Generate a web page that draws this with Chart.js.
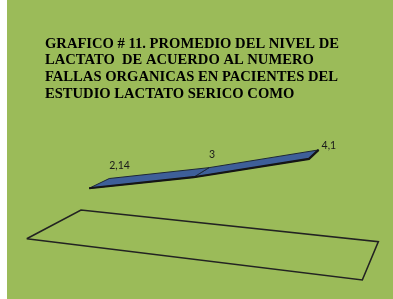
<!DOCTYPE html>
<html>
<head>
<meta charset="utf-8">
<script src="https://cdn.jsdelivr.net/npm/chart.js@4/dist/chart.umd.min.js"></script>
<style>
  body { margin: 0; background: #ffffff; }
  #wrap { position: absolute; left: 7px; top: 0; width: 386px; height: 299px; background: #9bbb59; }
</style>
</head>
<body>
<div id="wrap"><canvas id="chart" width="386" height="299"></canvas></div>
<script>
// Data
const categories = ['1', '2', '3'];
const lactato = [2.14, 3, 4.1];
const titleLines = [
    'GRAFICO # 11. PROMEDIO DEL NIVEL DE',
    'LACTATO  DE ACUERDO AL NUMERO',
    'FALLAS ORGANICAS EN PACIENTES DEL',
    'ESTUDIO LACTATO SERICO COMO'
];

// 3D view (Excel style perspective): rows map (u, value, depth, 1) to page x / y / w
const camera = [
    [285.64, 1.0, 65.34, 26.7],
    [2.69, -23.4, -0.09, 238.7],
    [-0.1379, 0, 0.13625, 1]
];
const ribbonFront = 0.2;
const ribbonBack = 0.6;
const plotTop = 141; // labels are kept inside the plot area

function project(u, value, depth) {
    const v = [u, value, depth, 1];
    const r = camera.map(row => row.reduce((s, c, i) => s + c * v[i], 0));
    return { x: r[0] / r[2], y: r[1] / r[2] };
}

function catU(i) {
    return (i + 0.5) / categories.length;
}

// Floor outline
const floor = [
    project(0, 0, 0), project(1, 0, 0), project(1, 0, 1), project(0, 0, 1), project(0, 0, 0)
];

// Ribbon top faces, one per segment
const faces = [];
for (let i = 0; i < lactato.length - 1; i++) {
    faces.push([
        project(catU(i), lactato[i], ribbonFront),
        project(catU(i + 1), lactato[i + 1], ribbonFront),
        project(catU(i + 1), lactato[i + 1], ribbonBack),
        project(catU(i), lactato[i], ribbonBack),
        project(catU(i), lactato[i], ribbonFront)
    ]);
}

// Front edge of the ribbon plus its right end
const edge = lactato.map((v, i) => project(catU(i), v, ribbonFront));
edge.push(project(catU(lactato.length - 1), lactato[lactato.length - 1], ribbonBack));

const datasets = [];
datasets.push({
    data: edge,
    borderColor: '#151515',
    borderWidth: 2.2,
    fill: false,
    order: 0
});
faces.forEach(f => {
    datasets.push({
        data: f,
        borderColor: '#1c2638',
        borderWidth: 1,
        backgroundColor: '#3e5f99',
        fill: 'shape',
        order: 1
    });
});
datasets.push({
    data: floor,
    borderColor: '#222222',
    borderWidth: 1.6,
    fill: false,
    order: 2
});

// Data labels above the back edge of the ribbon
const labelPlugin = {
    id: 'valueLabels',
    afterDatasetsDraw(chart) {
        const ctx = chart.ctx;
        const xs = chart.scales.x;
        const ys = chart.scales.y;
        ctx.save();
        ctx.font = '10.5px Lato, "Liberation Sans", sans-serif';
        ctx.fillStyle = '#1a1a1a';
        ctx.textAlign = 'left';
        ctx.textBaseline = 'alphabetic';
        lactato.forEach((v, i) => {
            const p = project(catU(i), v, ribbonBack);
            const base = Math.max(p.y - 10, plotTop + 7.5);
            const px = xs.getPixelForValue(p.x) + (base > p.y - 10 ? 3 : 0);
            const py = ys.getPixelForValue(base);
            ctx.fillText(String(v).replace('.', ','), px, py);
        });
        ctx.restore();
    }
};

new Chart(document.getElementById('chart'), {
    type: 'line',
    data: { datasets: datasets },
    options: {
        responsive: false,
        animation: false,
        events: [],
        layout: { padding: { left: 38, right: 0, top: 0, bottom: 0 } },
        elements: {
            point: { radius: 0 },
            line: { tension: 0 }
        },
        datasets: { line: { clip: false } },
        scales: {
            x: { type: 'linear', display: false, min: 45, max: 393, bounds: 'data' },
            y: { type: 'linear', display: false, reverse: true, min: 105, max: 299, bounds: 'data' }
        },
        plugins: {
            legend: { display: false },
            tooltip: { enabled: false },
            title: {
                display: true,
                text: titleLines,
                align: 'start',
                color: '#000000',
                font: { family: '"Liberation Serif", "Times New Roman", serif', size: 14.6, weight: 'bold', lineHeight: '16.7px' },
                padding: { top: 35.5, bottom: 2.7 }
            }
        }
    },
    plugins: [labelPlugin]
});
</script>
</body>
</html>
